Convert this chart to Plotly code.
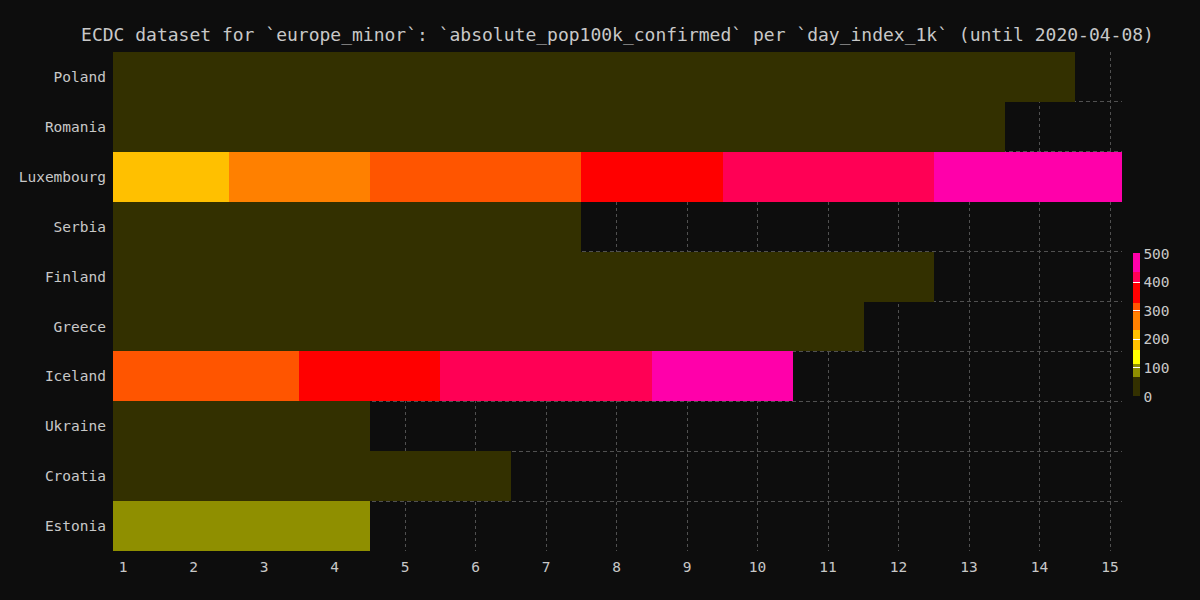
import plotly.graph_objects as go

days = list(range(1, 16))
countries = ["Poland", "Romania", "Luxembourg", "Serbia", "Finland",
             "Greece", "Iceland", "Ukraine", "Croatia", "Estonia"]

poland = [3.0, 3.4, 3.9, 4.4, 5.0, 5.6, 6.4, 7.1, 8.1, 9.1, 10.0, 11.0, 12.0, 13.2]
romania = [5.4, 6.3, 7.6, 8.7, 10.2, 11.5, 12.6, 13.9, 15.2, 16.4, 17.8, 19.5, 21.1]
luxembourg = [179, 217, 237, 266, 298, 312, 322, 355, 377, 405, 418, 428, 444, 456, 467]
serbia = [14.8, 17.4, 19.8, 21.6, 25.3, 27.5, 29.8]
finland = [18.6, 20.0, 21.5, 23.5, 25.0, 26.3, 28.2, 31.0, 33.2, 35.6, 38.2, 40.5]
greece = [9.6, 10.3, 11.1, 12.1, 12.6, 13.6, 14.7, 15.6, 16.0, 16.7, 17.2]
iceland = [296, 304, 312, 338, 372, 403, 418, 425, 437, 444]
ukraine = [2.6, 3.0, 3.3, 3.8]
croatia = [24.5, 26.2, 27.8, 29.4, 30.8, 32.2]
estonia = [75.2, 80.4, 84.3, 88.7]

rows = [poland, romania, luxembourg, serbia, finland,
        greece, iceland, ukraine, croatia, estonia]

# stepped colour scale (value bounds and colours)
bounds = [0, 66, 113, 160, 230, 294, 325, 400, 433, 500]
step_colors = ["#333000", "#8f8f00", "#ffff00", "#ffc000", "#ff8000",
               "#ff5500", "#ff0000", "#ff0055", "#ff00aa"]

zmax = 500
colorscale = []
for i, c in enumerate(step_colors):
    colorscale.append([bounds[i] / zmax, c])
    colorscale.append([bounds[i + 1] / zmax, c])

z = [r + [None] * (len(days) - len(r)) for r in rows]

text_color = "#c8c8c8"
bg = "#0d0d0d"
font_family = "DejaVu Sans Mono"
tick_size = 14.5

fig = go.Figure(go.Heatmap(
    x=days, y=countries, z=z,
    zmin=0, zmax=zmax,
    colorscale=colorscale,
    hoverongaps=False,
    colorbar=dict(
        thickness=7, len=143, lenmode="pixels",
        x=1.011, xanchor="left", xpad=0,
        y=0.453, yanchor="middle", ypad=0,
        outlinewidth=0,
        tickvals=[0, 100, 200, 300, 400, 500],
        ticks="inside", ticklen=7, tickcolor="#ffffff", tickwidth=1,
        tickfont=dict(size=tick_size, color=text_color, family=font_family),
    ),
))

fig.update_layout(
    width=1200, height=600,
    paper_bgcolor=bg, plot_bgcolor=bg,
    margin=dict(l=113, r=78, t=52, b=49),
    font=dict(family=font_family, size=tick_size, color=text_color),
    title=dict(
        text="ECDC dataset for `europe_minor`: `absolute_pop100k_confirmed` per `day_index_1k` (until 2020-04-08)",
        x=0.5, xref="paper", xanchor="center",
        y=1 - 35 / 600, yref="container", yanchor="middle",
        font=dict(size=18, color=text_color, family=font_family),
    ),
    xaxis=dict(
        range=[0.858, 15.17],
        tickvals=days,
        showgrid=True, gridcolor="#505050", griddash="3px,3px", gridwidth=1,
        zeroline=False, showline=False, ticks="",
        ticklabelstandoff=5,
        tickfont=dict(size=tick_size, color=text_color),
    ),
    yaxis=dict(
        type="category",
        autorange="reversed",
        tickson="boundaries",
        showgrid=True, gridcolor="#505050", griddash="4px,3px", gridwidth=1,
        zeroline=False, showline=False, ticks="",
        ticklabelstandoff=6,
        tickfont=dict(size=tick_size, color=text_color),
    ),
)

fig.write_html(
    "out.html",
    config={"displayModeBar": False},
    post_script="document.body.style.margin='0';document.body.style.background='#0d0d0d';",
)
